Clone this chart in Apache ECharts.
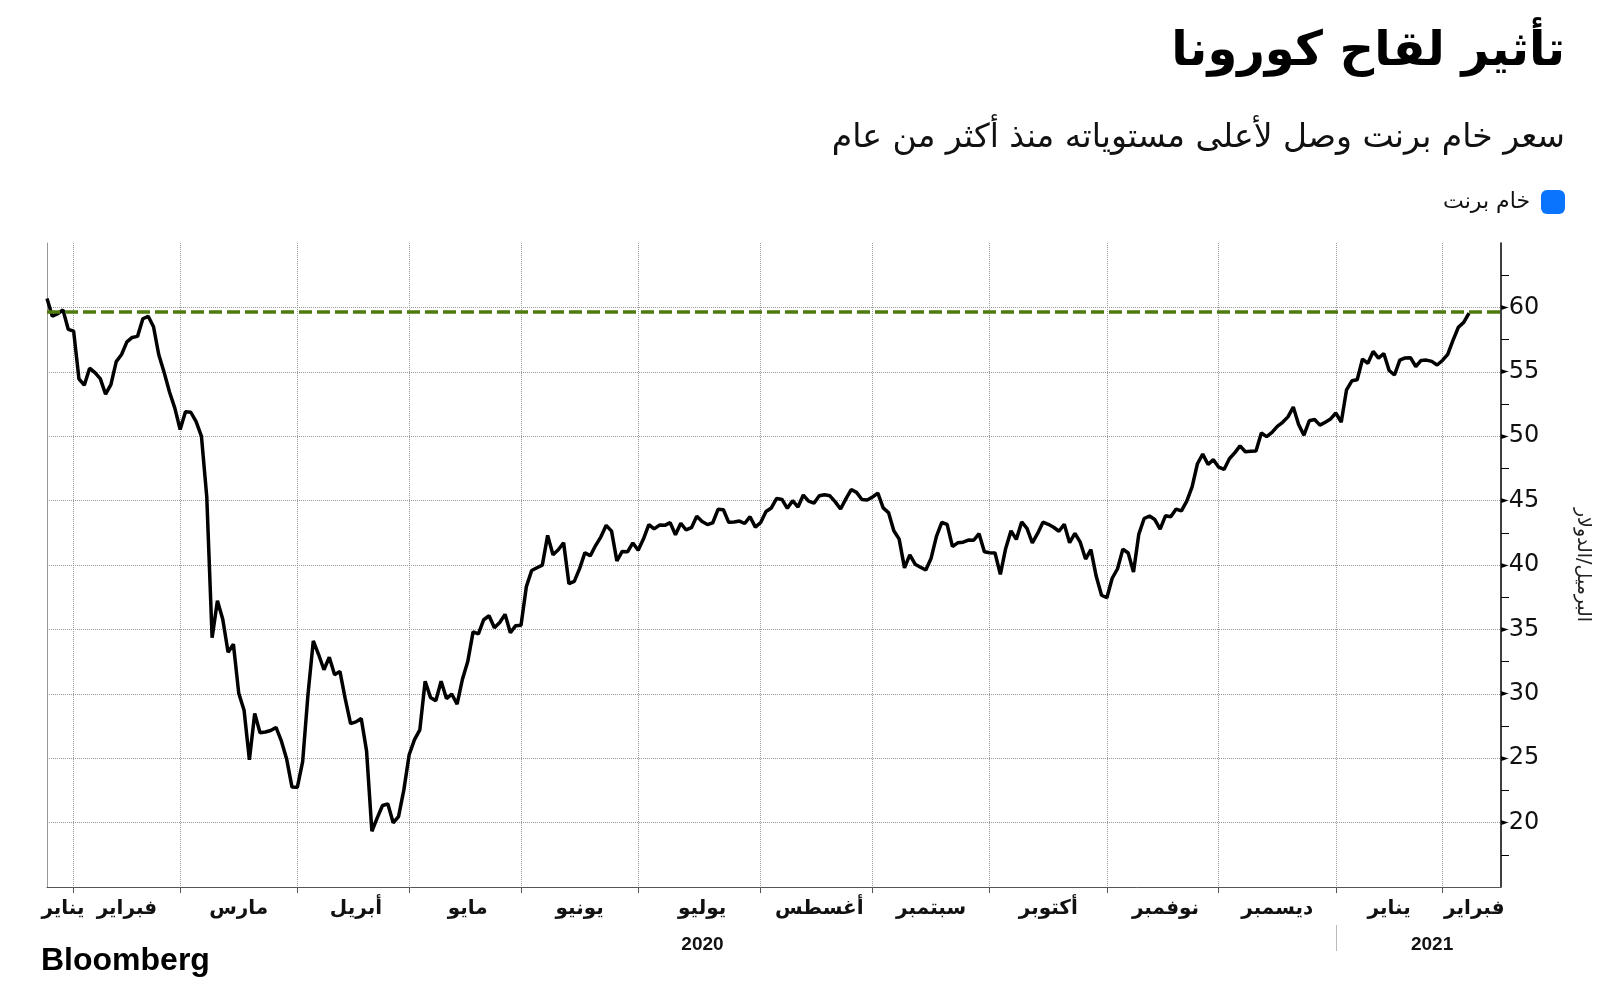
<!DOCTYPE html>
<html><head><meta charset="utf-8">
<script src="https://cdn.jsdelivr.net/npm/echarts@6/dist/echarts.min.js"></script>
<style>html,body{margin:0;padding:0;background:#fff}#c{width:1600px;height:984px}</style>
</head><body><div id="c"></div>
<script>
// ---- text ----
const titleText = 'تأثير لقاح كورونا';
const subtitleText = 'سعر خام برنت وصل لأعلى مستوياته منذ أكثر من عام';
const seriesName = 'خام برنت';
const yAxisName = 'البرميل/الدولار';
const sourceText = 'Bloomberg';
const monthNames = ['يناير','فبراير','مارس','أبريل','مايو','يونيو','يوليو','أغسطس','سبتمبر','أكتوبر','نوفمبر','ديسمبر'];
const yTickLabels = [20, 25, 30, 35, 40, 45, 50, 55, 60];

// ---- trading-day categories (weekdays, exchange holidays removed) ----
const firstDay = '2020-01-24';
const lastAxisDay = '2021-02-15';
const holidays = ['2020-04-10', '2020-12-25', '2021-01-01'];

// ---- Brent close, USD/barrel ----
const jan2020 = [60.69, 59.32, 59.51, 59.81, 58.29, 58.16];
const feb2020 = [54.45, 53.96, 55.28, 54.93, 54.47, 53.27, 54.01, 55.79, 56.34, 57.32, 57.67, 57.75, 59.12, 59.31, 58.50, 56.30, 54.95, 53.43, 52.18, 50.52];
const mar2020 = [51.90, 51.86, 51.13, 49.99, 45.27, 34.36, 37.22, 35.79, 33.22, 33.85, 30.05, 28.73, 24.88, 28.47, 26.98, 27.03, 27.15, 27.39, 26.34, 24.93, 22.76, 22.74];
const apr2020 = [24.74, 29.94, 34.11, 33.05, 31.87, 32.84, 31.48, 31.74, 29.60, 27.69, 27.82, 28.08, 25.57, 19.33, 20.37, 21.33, 21.44, 19.99, 20.46, 22.54, 25.27];
const may2020 = [26.44, 27.20, 30.97, 29.72, 29.46, 30.97, 29.63, 29.98, 29.19, 31.13, 32.50, 34.81, 34.65, 35.75, 36.06, 35.13, 35.53, 36.17, 34.74, 35.29, 35.33];
const jun2020 = [38.32, 39.57, 39.79, 39.99, 42.30, 40.80, 41.18, 41.73, 38.55, 38.73, 39.72, 40.96, 40.71, 41.51, 42.19, 43.08, 42.63, 40.31, 41.05, 41.02, 41.71, 41.15];
const jul2020 = [42.03, 43.14, 42.80, 43.10, 43.08, 43.29, 42.35, 43.24, 42.72, 42.90, 43.79, 43.37, 43.14, 43.28, 44.32, 44.29, 43.31, 43.34, 43.41, 43.22, 43.75, 42.94, 43.30];
const aug2020 = [44.15, 44.43, 45.17, 45.09, 44.40, 44.99, 44.50, 45.43, 44.96, 44.80, 45.37, 45.46, 45.37, 44.90, 44.35, 45.13, 45.86, 45.64, 45.09, 45.05, 45.28];
const sep2020 = [45.58, 44.43, 44.07, 42.66, 42.01, 39.78, 40.79, 40.06, 39.83, 39.61, 40.53, 42.22, 43.30, 43.15, 41.44, 41.72, 41.77, 41.94, 41.92, 42.43, 41.03, 40.95];
const oct2020 = [40.93, 39.27, 41.29, 42.65, 41.99, 43.34, 42.85, 41.72, 42.45, 43.32, 43.16, 42.93, 42.62, 43.16, 41.73, 42.46, 41.77, 40.46, 41.20, 39.12, 37.65, 37.46];
const nov2020 = [38.97, 39.71, 41.23, 40.93, 39.45, 42.40, 43.61, 43.80, 43.53, 42.78, 43.82, 43.75, 44.34, 44.20, 44.96, 46.06, 47.86, 48.61, 47.80, 48.18, 47.59];
const dec2020 = [47.42, 48.25, 48.71, 49.25, 48.79, 48.84, 48.86, 50.25, 49.97, 50.29, 50.76, 51.08, 51.50, 52.26, 50.91, 50.08, 51.20, 51.29, 50.86, 51.09, 51.34, 51.80];
const jan2021 = [51.09, 53.60, 54.30, 54.38, 55.99, 55.66, 56.58, 56.06, 56.42, 55.10, 54.75, 55.90, 56.08, 56.10, 55.41, 55.88, 55.91, 55.81, 55.53, 55.88];
const feb2021 = [56.35, 57.46, 58.46, 58.84, 59.55];
const referenceLevel = 59.7;

// ---- build categories ----
function iso(d) { return d.toISOString().slice(0, 10); }
const dates = [];
for (let d = new Date(firstDay + 'T00:00:00Z'); iso(d) <= lastAxisDay; d.setUTCDate(d.getUTCDate() + 1)) {
  const wd = d.getUTCDay();
  if (wd === 0 || wd === 6) continue;
  if (holidays.indexOf(iso(d)) >= 0) continue;
  dates.push(iso(d));
}
const values = [].concat(jan2020, feb2020, mar2020, apr2020, may2020, jun2020, jul2020, aug2020, sep2020, oct2020, nov2020, dec2020, jan2021, feb2021);

const n = dates.length;
const monthKey = s => s.slice(0, 7);
const monthEnds = new Set();
const yearEnds = new Set();
for (let i = 0; i < n - 1; i++) {
  if (monthKey(dates[i]) !== monthKey(dates[i + 1])) monthEnds.add(i);
  if (dates[i].slice(0, 4) !== dates[i + 1].slice(0, 4)) yearEnds.add(i);
}
function segments(ends) {
  const b = [0].concat([...ends].sort((a, c) => a - c), [n - 1]);
  const out = new Map();
  for (let k = 0; k < b.length - 1; k++) {
    const mid = Math.round((b[k] + b[k + 1]) / 2);
    out.set(mid, k === 0 ? b[k] : b[k] + 1);
  }
  return out;
}
const monthLabelAt = segments(monthEnds);
const yearLabelAt = segments(yearEnds);

const arFont = 'DejaVu Sans';
const chart = echarts.init(document.getElementById('c'), null, { renderer: 'canvas' });
chart.setOption({
  backgroundColor: '#ffffff',
  animation: false,
  title: [
    { text: titleText, right: 30, top: 24, textStyle: { fontFamily: arFont, fontSize: 48, fontWeight: 'bold', color: '#000' } },
    { text: subtitleText, right: 30, top: 117, textStyle: { fontFamily: arFont, fontSize: 33, fontWeight: 'normal', color: '#111' } }
  ],
  legend: {
    right: 30, top: 185, align: 'right', itemWidth: 24, itemHeight: 24, itemGap: 12,
    icon: 'roundRect',
    data: [{ name: seriesName, itemStyle: { color: '#0a74ff' } }],
    textStyle: { fontFamily: arFont, fontSize: 22, color: '#111', padding: [0, 6, 0, 0] }
  },
  grid: { left: 47, right: 96, top: 243, bottom: 97, containLabel: false },
  xAxis: [
    {
      type: 'category', data: dates, boundaryGap: false,
      axisLine: { lineStyle: { color: '#555', width: 1 } },
      axisTick: { show: true, length: 6, interval: (i) => monthEnds.has(i), lineStyle: { color: '#555' } },
      splitLine: { show: true, interval: (i) => monthEnds.has(i), lineStyle: { color: '#9a9a9a', type: 'dotted', width: 1 } },
      axisLabel: {
        interval: (i) => monthLabelAt.has(i),
        formatter: (v, i) => monthNames[parseInt(dates[monthLabelAt.get(i)].slice(5, 7), 10) - 1],
        fontFamily: arFont, fontWeight: 'bold', fontSize: 20, color: '#111', margin: 12
      }
    },
    {
      type: 'category', data: dates, boundaryGap: false, position: 'bottom', offset: 38,
      axisLine: { show: false },
      axisTick: { show: true, length: 26, interval: (i) => yearEnds.has(i), lineStyle: { color: '#bbb' } },
      splitLine: { show: false },
      axisLabel: {
        interval: (i) => yearLabelAt.has(i),
        formatter: (v, i) => dates[yearLabelAt.get(i)].slice(0, 4),
        fontFamily: 'Liberation Sans', fontWeight: 'bold', fontSize: 19, color: '#111', margin: 10,
        padding: [0, 0, 0, 22]
      }
    }
  ],
  yAxis: [
    {
      type: 'value', position: 'right', min: 15, max: 65, interval: 5,
      axisLine: { show: true, lineStyle: { color: '#000', width: 1.5 } },
      axisTick: { show: false },
      minorTick: { show: true, splitNumber: 2, length: 8, lineStyle: { color: '#000', width: 1 } },
      splitLine: { show: true, showMinLine: false, showMaxLine: false, lineStyle: { color: '#9a9a9a', type: 'dotted', width: 1 } },
      axisLabel: {
        margin: 0,
        formatter: v => yTickLabels.indexOf(v) >= 0 ? '{t|►}{v|' + v + '}' : '',
        rich: {
          t: { fontSize: 10, color: '#000', fontFamily: 'DejaVu Sans' },
          v: { fontSize: 24, color: '#111', fontFamily: 'DejaVu Sans' }
        }
      },
      name: yAxisName, nameLocation: 'middle', nameRotate: -90, nameGap: 72,
      nameTextStyle: { fontFamily: arFont, fontSize: 19, color: '#222' }
    },
    {
      type: 'value', position: 'left', min: 15, max: 65, interval: 5,
      axisLine: { show: true, lineStyle: { color: '#999', width: 1 } },
      axisTick: { show: false }, axisLabel: { show: false }, splitLine: { show: false }
    }
  ],
  graphic: [
    { type: 'text', left: 41, top: 945, style: { text: sourceText, fontFamily: 'Liberation Sans', fontWeight: 'bold', fontSize: 32, fill: '#000' } }
  ],
  series: [
    {
      name: seriesName, type: 'line', data: values, showSymbol: false, symbol: 'none',
      itemStyle: { color: '#0a74ff' },
      lineStyle: { color: '#000', width: 3.5 },
      z: 3,
      markLine: {
        silent: true, symbol: ['none', 'none'], label: { show: false },
        lineStyle: { color: '#4d7a0f', type: [13, 5], width: 3.5 },
        data: [{ yAxis: referenceLevel }]
      }
    }
  ]
});
</script></body></html>
